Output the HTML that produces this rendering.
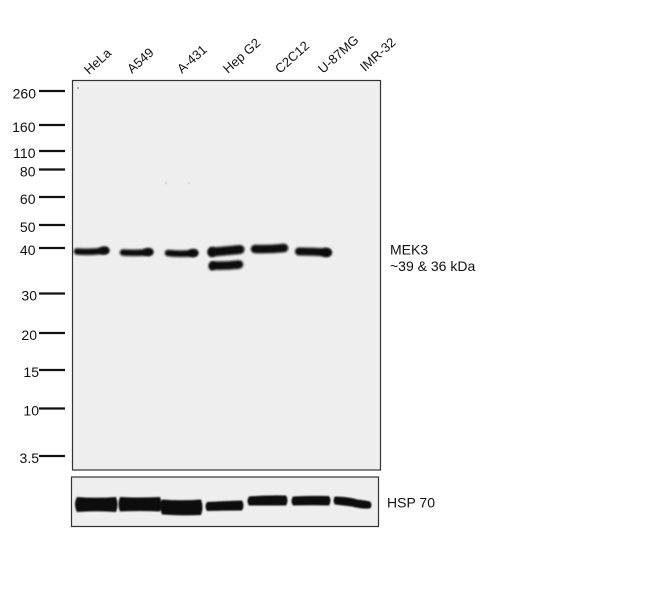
<!DOCTYPE html>
<html><head><meta charset="utf-8">
<style>
html,body{margin:0;padding:0;background:#fff;}
svg{display:block;}
text{font-family:"Liberation Sans",Arial,sans-serif;fill:#111;}
</style></head>
<body>
<svg width="650" height="601" viewBox="0 0 650 601" xmlns="http://www.w3.org/2000/svg">
<defs>
<filter id="b" x="-20%" y="-80%" width="140%" height="260%"><feGaussianBlur stdDeviation="1.1"/></filter>
<filter id="b2" x="-20%" y="-50%" width="140%" height="200%"><feGaussianBlur stdDeviation="0.7"/></filter>
</defs>
<rect width="650" height="601" fill="#fff"/>

<!-- lane labels -->
<g font-size="13">
<text transform="translate(89,75) rotate(-42)">HeLa</text>
<text transform="translate(132,74) rotate(-42)">A549</text>
<text transform="translate(182,74) rotate(-42)">A-431</text>
<text transform="translate(228,74) rotate(-42)">Hep G2</text>
<text transform="translate(280,74) rotate(-42)">C2C12</text>
<text transform="translate(323,74) rotate(-42)">U-87MG</text>
<text transform="translate(365,72) rotate(-42)">IMR-32</text>
</g>

<!-- main panel -->
<rect x="72.5" y="80.5" width="308" height="389.5" fill="#eeeeee" stroke="#333" stroke-width="1.2"/>
<circle cx="78" cy="88" r="0.9" fill="#888"/>
<circle cx="166" cy="183" r="1.5" fill="#ddd"/>
<circle cx="189" cy="183" r="1.5" fill="#ddd"/>

<!-- marker ticks -->
<g stroke="#111" stroke-width="2.3">
<line x1="39" y1="91" x2="65" y2="91"/>
<line x1="39" y1="125" x2="65" y2="125"/>
<line x1="39" y1="151" x2="65" y2="151"/>
<line x1="39" y1="169.5" x2="65" y2="169.5"/>
<line x1="39" y1="197" x2="65" y2="197"/>
<line x1="39" y1="225" x2="65" y2="225"/>
<line x1="39" y1="248" x2="65" y2="248"/>
<line x1="39" y1="293.5" x2="65" y2="293.5"/>
<line x1="39" y1="333" x2="65" y2="333"/>
<line x1="39" y1="370" x2="65" y2="370"/>
<line x1="39" y1="408.5" x2="65" y2="408.5"/>
<line x1="39" y1="456" x2="65" y2="456"/>
</g>
<g font-size="14" text-anchor="end">
<text x="36" y="98.5">260</text>
<text x="35.5" y="132">160</text>
<text x="35.5" y="158">110</text>
<text x="35.5" y="176.5">80</text>
<text x="35.5" y="204">60</text>
<text x="35.5" y="232">50</text>
<text x="35.5" y="255">40</text>
<text x="37" y="300.5">30</text>
<text x="37" y="340">20</text>
<text x="39" y="377">15</text>
<text x="39" y="415.5">10</text>
<text x="39" y="463">3.5</text>
</g>

<!-- MEK3 bands -->
<g fill="none" stroke="#111" stroke-linecap="round" filter="url(#b)">
<path d="M77,251.5 Q91,252.5 106,250.5" stroke-width="6.5"/>
<path d="M123,252.5 Q137,253.5 150,252" stroke-width="6.5"/>
<path d="M168,253 Q181,254.5 195,253" stroke-width="6.5"/>
<path d="M212,252 Q225,251 240,249.5" stroke-width="9"/>
<path d="M214,265.5 Q226,266 239,264.5" stroke-width="8.5"/>
<path d="M255,249 Q269,249.5 284,248" stroke-width="8.5"/>
<path d="M299,251.5 Q313,251.5 328,252.5" stroke-width="8"/>
</g>
<g fill="#111" filter="url(#b)">
<ellipse cx="104" cy="250.5" rx="5" ry="4"/>
<ellipse cx="148" cy="252" rx="5" ry="4"/>
<ellipse cx="193" cy="253" rx="5" ry="4"/>
<ellipse cx="212" cy="252" rx="4" ry="5"/>
<ellipse cx="212" cy="266" rx="3.5" ry="4.5"/>
<ellipse cx="326" cy="252.5" rx="5" ry="4.5"/>
</g>

<text x="390" y="254.5" font-size="14">MEK3</text>
<text x="390" y="271" font-size="14">~39 &amp; 36 kDa</text>

<!-- HSP70 panel -->
<rect x="71.5" y="477" width="307" height="49.5" fill="#eeeeee" stroke="#333" stroke-width="1.2"/>
<g fill="#0a0a0a" filter="url(#b2)">
<path d="M77,497 Q96,498.5 116,497 Q119,504.5 116,512 Q96,510.5 77,512 Q73,504.5 77,497 Z"/>
<path d="M120,497 Q140,498 160,497 Q163,504 160,511.5 Q140,510.5 120,511.5 Q117,504 120,497 Z"/>
<path d="M162,499.5 Q182,501 201,499.5 Q204,507.5 201,515 Q182,516 162,514.5 Q159,507 162,499.5 Z"/>
<path d="M207,502 Q225,501 242,500.5 Q245,505.5 242,510.5 Q225,510.5 207,511 Q204,506.5 207,502 Z"/>
<path d="M249,496.5 Q268,495 286,495.5 Q289,500.5 286,505.5 Q268,505.5 249,505.5 Q246,501 249,496.5 Z"/>
<path d="M293,496.5 Q311,495.5 329,496 Q332,500.5 329,505.5 Q311,505 293,505.5 Q290,501 293,496.5 Z"/>
<path d="M335,496.5 Q350,497 357,499.5 Q366,500.5 370,501.5 Q373,505 370,508.5 Q360,509 352,506.5 Q343,505.5 335,504.5 Q332,500.5 335,496.5 Z"/>
</g>
<text x="387" y="507.5" font-size="14">HSP 70</text>
</svg>
</body></html>
